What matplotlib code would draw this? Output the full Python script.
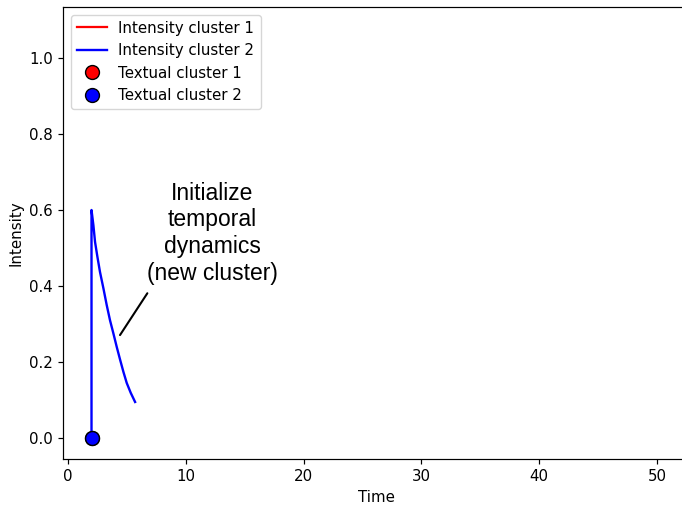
import matplotlib
matplotlib.use('Agg')
import matplotlib.pyplot as plt

# intensity curve of cluster 2
time_c2 = [2.0, 2.0, 2.16, 2.30, 2.50, 2.72, 3.01, 3.29, 3.57, 3.86,
           4.14, 4.42, 4.71, 4.99, 5.33, 5.70]
intensity_c2 = [0.0, 0.601, 0.561, 0.517, 0.478, 0.438, 0.395, 0.351, 0.311, 0.276,
                0.241, 0.208, 0.175, 0.146, 0.120, 0.096]

# cluster 1 has no visible intensity yet
time_c1 = []
intensity_c1 = []

# textual events
text_time_c1 = [2.0]
text_val_c1 = [0.0]
text_time_c2 = [2.0]
text_val_c2 = [0.0]

note_text = 'Initialize\ntemporal\ndynamics\n(new cluster)'
note_pos = (12.25, 0.54)
note_line_from = (6.74, 0.382)
note_line_to = (4.42, 0.272)

k = 1.08
plt.rcParams.update({
    'font.size': 10 * k,
    'axes.linewidth': 0.8 * k,
    'xtick.major.size': 3.5 * k,
    'ytick.major.size': 3.5 * k,
    'xtick.major.width': 0.8 * k,
    'ytick.major.width': 0.8 * k,
    'lines.linewidth': 1.5 * k,
})

fig = plt.figure(figsize=(6.82, 5.05), dpi=100)
# axes run past the right edge of the picture (cropped like the original)
ax = fig.add_axes([63 / 682, 46 / 505, 627.4 / 682, 452 / 505])
ax.spines['right'].set_visible(False)

ax.plot(time_c1, intensity_c1, color='red', label='Intensity cluster 1')
ax.plot(time_c2, intensity_c2, color='blue', lw=1.7, label='Intensity cluster 2')
ax.plot(text_time_c1, text_val_c1, 'o', color='red', mec='black', ms=10,
        label='Textual cluster 1', zorder=3)
ax.plot(text_time_c2, text_val_c2, 'o', color='blue', mec='black', ms=10,
        label='Textual cluster 2', zorder=4)

ax.text(note_pos[0], note_pos[1], note_text, ha='center', va='center',
        fontsize=16.5, family=['Liberation Sans', 'DejaVu Sans'], linespacing=1.2)
ax.annotate('', xy=note_line_to, xytext=note_line_from,
            arrowprops=dict(arrowstyle='-', color='black', lw=1.5,
                            shrinkA=0, shrinkB=0))

ax.set_xlim(-0.42, 52.84)
ax.set_ylim(-0.054, 1.135)
ax.set_xticks([0, 10, 20, 30, 40, 50])
ax.set_yticks([0.0, 0.2, 0.4, 0.6, 0.8, 1.0])
ax.set_xlabel('Time')
ax.set_ylabel('Intensity')
ax.legend(loc='upper left')

fig.savefig('out.png', dpi=100)
